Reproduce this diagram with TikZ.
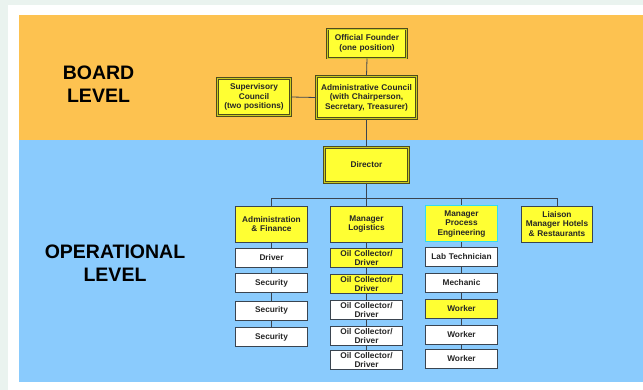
\documentclass[tikz,border=0pt]{standalone}
\usepackage{fontspec}
\setmainfont{Liberation Sans}
\begin{document}
\begin{tikzpicture}[x=1pt,y=-1pt,
  every node/.style={font=\fontsize{8.3}{9.6}\selectfont\bfseries, text=black!85},
  bd/.style={rectangle, fill=boxy, draw=bdline, line width=1pt, double=boxy!60!olive, double distance=0.6pt, inner sep=0pt, align=center, text width=#1},
  bd/.default=70pt,
  rowbox/.style={rectangle, draw=rowline, line width=0.8pt, inner sep=0pt, align=center, minimum width=71.5pt, text width=71pt},
  mgr/.style={rowbox, fill=boxy, minimum height=36pt},
  wbox/.style={rowbox, fill=white, minimum height=19pt},
  ybox/.style={rowbox, fill=boxy, minimum height=19pt},
  tight/.style={font=\fontsize{8.3}{8.6}\selectfont\bfseries},
  conn/.style={draw=rowline, line width=0.8pt},
  lvl/.style={font=\fontsize{19.5}{23}\selectfont\bfseries, text=black, align=center}
]
\definecolor{bggray}{HTML}{EAF3EF}
\definecolor{orng}{HTML}{FDC250}
\definecolor{skyb}{HTML}{8ACBFD}
\definecolor{boxy}{HTML}{FFFF33}
\definecolor{bdline}{HTML}{4E4C1E}
\definecolor{rowline}{HTML}{3A4450}
\definecolor{cyanb}{HTML}{33DDEE}

\useasboundingbox (0,0) rectangle (643,390);
\fill[bggray] (0,0) rectangle (643,390);
\fill[white] (7.5,5) rectangle (643,390);
\fill[orng] (19,15.5) rectangle (643,140);
\fill[skyb] (19,140) rectangle (643,382);

\node[lvl] (board) at (98.5,84) {BOARD\\LEVEL};
\node[lvl] (oper) at (115,263.5) {OPERATIONAL\\LEVEL};

% board level
\node[bd=78pt, minimum width=79pt, minimum height=29pt] (founder) at (367,43.5) {Official Founder\\(one position)};
\node[bd=100pt, minimum width=100pt, minimum height=42pt] (council) at (366.5,97.5) {Administrative Council\\(with Chairperson,\\Secretary, Treasurer)};
\node[bd=72pt, minimum width=73pt, minimum height=37pt] (super) at (254,97) {Supervisory\\Council\\(two positions)};
\node[bd=84pt, minimum width=84pt, minimum height=35pt] (director) at (366.5,165) {Director};

% managers
\node[mgr] (admin) at (271.5,224) {Administration\\\& Finance};
\node[mgr] (logi) at (366.5,224) {Manager\\Logistics};
\node[mgr, draw=cyanb, line width=1pt] (proc) at (461.5,224) {Manager\\Process\\Engineering};
\node[mgr] (liaison) at (557,224) {Liaison\\Manager Hotels\\\& Restaurants};

% admin column
\node[wbox] (a1) at (271.5,258) {Driver};
\node[wbox] (a2) at (271.5,283) {Security};
\node[wbox] (a3) at (271.5,310.5) {Security};
\node[wbox] (a4) at (271.5,337) {Security};

% logistics column
\node[ybox, tight] (l1) at (366.5,258) {Oil Collector/\\Driver};
\node[ybox, tight] (l2) at (366.5,284) {Oil Collector/\\Driver};
\node[wbox, tight] (l3) at (366.5,310) {Oil Collector/\\Driver};
\node[wbox, tight] (l4) at (366.5,336) {Oil Collector/\\Driver};
\node[wbox, tight] (l5) at (366.5,360) {Oil Collector/\\Driver};

% process column
\node[wbox] (p1) at (461.5,256.7) {Lab Technician};
\node[wbox] (p2) at (461.5,283) {Mechanic};
\node[ybox] (p3) at (461.5,308.5) {Worker};
\node[wbox] (p4) at (461.5,335) {Worker};
\node[wbox] (p5) at (461.5,359) {Worker};

% connectors
\draw[conn] (founder.south) -- (council.north);
\draw[conn] (super.east) -- (council.west);
\draw[conn] (council.south) -- (director.north);
\coordinate (bus) at (366.5,198);
\draw[conn] (director.south) -- (bus);
\draw[conn] (admin.north) -- (admin.north |- bus) -- (liaison.north |- bus) -- (liaison.north);
\draw[conn] (bus) -- (logi.north);
\draw[conn] (proc.north |- bus) -- (proc.north);
\draw[conn] (admin.south) -- (a1.north);
\draw[conn] (a1.south) -- (a2.north);
\draw[conn] (a2.south) -- (a3.north);
\draw[conn] (a3.south) -- (a4.north);
\draw[conn] (logi.south) -- (l1.north);
\draw[conn] (l1.south) -- (l2.north);
\draw[conn] (l2.south) -- (l3.north);
\draw[conn] (l3.south) -- (l4.north);
\draw[conn] (l4.south) -- (l5.north);
\draw[conn] (proc.south) -- (p1.north);
\draw[conn] (p1.south) -- (p2.north);
\draw[conn] (p2.south) -- (p3.north);
\draw[conn] (p3.south) -- (p4.north);
\draw[conn] (p4.south) -- (p5.north);
\end{tikzpicture}
\end{document}
